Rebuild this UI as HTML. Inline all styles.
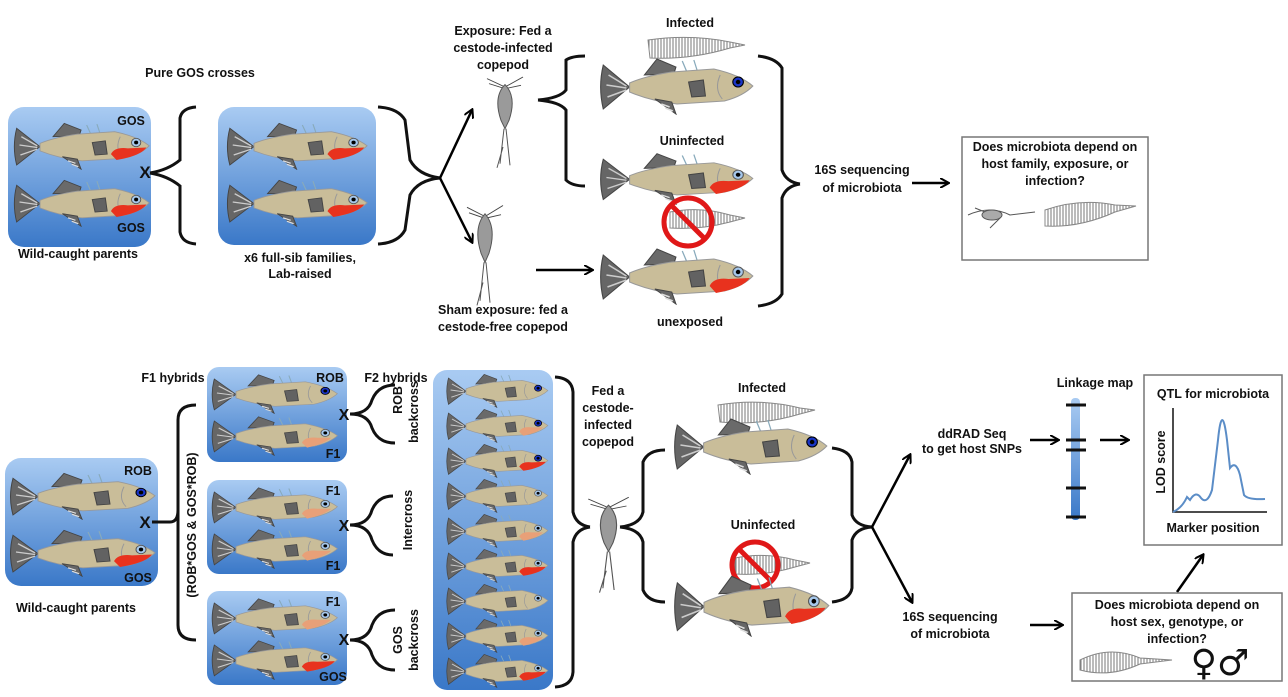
<!DOCTYPE html>
<html><head><meta charset="utf-8"><style>
html,body{margin:0;padding:0;background:#fff}
svg{display:block}
text{font-family:"Liberation Sans",sans-serif;font-weight:bold;font-size:12.5px;fill:#111}
</style></head><body>
<svg width="1288" height="697" viewBox="0 0 1288 697" xmlns="http://www.w3.org/2000/svg">
<defs>
<linearGradient id="bg" x1="0" y1="0" x2="0" y2="1"><stop offset="0" stop-color="#a9cbf2"/><stop offset="1" stop-color="#3a78c8"/></linearGradient>
<linearGradient id="bar" x1="0" y1="0" x2="0" y2="1"><stop offset="0" stop-color="#a9cbf2"/><stop offset="1" stop-color="#3a78c8"/></linearGradient>
<pattern id="hatch" width="3" height="10" patternUnits="userSpaceOnUse"><rect width="3" height="10" fill="#fff"/><line x1="1" y1="0" x2="1" y2="10" stroke="#777" stroke-width="1"/></pattern>
<marker id="ar" markerWidth="10" markerHeight="10" refX="8" refY="5" orient="auto" markerUnits="userSpaceOnUse"><path d="M0,0 L9,5 L0,10" fill="none" stroke="#000" stroke-width="2"/></marker>
<symbol id="base" viewBox="0 0 150 60" preserveAspectRatio="none">
<path d="M30,32 L5,10 Q0,32 5,54 Z" fill="#666" stroke="#444"/>
<path d="M10,20 L27,31 M8,30 L27,33 M9,42 L27,35" stroke="#ccc" stroke-width="1.5"/>
<path d="M44,20 L56,4 L74,12 L72,19 Z" fill="#6a6a6a" stroke="#444"/>
<path d="M84,16 L80,6 M94,15 L91,5" stroke="#8ab" stroke-width="1.2"/>
<path d="M30,28 Q45,21 70,17 L110,14 Q135,20 147,31 Q138,41 120,46 L75,49 Q50,46 30,37 Z" fill="#c9bd99" stroke="#999"/>
<path d="M54,44 L74,59 L70,47 Z" fill="#666" stroke="#444"/>
<path d="M60,49 L68,52 M64,53 L71,56" stroke="#ddd" stroke-width="1.5"/>
<path d="M86,27 L100,25 L102,41 L89,42 Z" fill="#626262" stroke="#444"/>
<path d="M116,20 Q110,34 118,44" fill="none" stroke="#999"/>
<circle cx="133" cy="27" r="5" fill="#a6c8ec" stroke="#555"/><circle cx="133" cy="27" r="2.2" fill="#000"/>
</symbol>
<symbol id="red" viewBox="0 0 150 60" preserveAspectRatio="none"><path d="M106,41 Q110,32 124,34 L144,33 Q138,43 112,48 Z" fill="#e8321e"/></symbol>
<symbol id="org" viewBox="0 0 150 60" preserveAspectRatio="none"><path d="M106,41 Q110,32 124,34 L140,34 Q132,43 112,48 Z" fill="#e8a078"/></symbol>
<symbol id="be" viewBox="0 0 150 60" preserveAspectRatio="none"><circle cx="133" cy="27" r="5" fill="#1a35c8" stroke="#000"/><circle cx="133" cy="27" r="2.2" fill="#000"/></symbol>
<symbol id="cope" viewBox="0 0 40 120" preserveAspectRatio="none">
<path d="M2,8 L20,18 L38,6 M4,14 L20,20 L36,16" stroke="#444" fill="none"/>
<path d="M20,15 Q32,30 24,58 L20,68 L16,58 Q8,30 20,15 Z" fill="#9a9a9a" stroke="#555"/>
<path d="M19,68 L15,110 M21,68 L25,112 M18,90 L12,115" stroke="#555" fill="none"/>
</symbol>
</defs>

<!-- TOP SECTION -->
<text x="200" y="77" text-anchor="middle">Pure GOS crosses</text>
<rect x="8" y="107" width="143" height="140" rx="16" fill="url(#bg)"/>
<text x="131" y="125" text-anchor="middle">GOS</text>
<text x="131" y="232" text-anchor="middle">GOS</text>
<use href="#base" x="12" y="120" width="140" height="50"/><use href="#red" x="12" y="120" width="140" height="50"/>
<use href="#base" x="12" y="177" width="140" height="50"/><use href="#red" x="12" y="177" width="140" height="50"/>
<text x="145" y="178" text-anchor="middle" style="font-size:17px">X</text>
<text x="78" y="258" text-anchor="middle">Wild-caught parents</text>
<path d="M150,173 Q168,170 180,160 L180,118 Q182,108 196,107 M150,173 Q168,176 180,186 L180,232 Q182,243 196,244" fill="none" stroke="#111" stroke-width="3"/>
<rect x="218" y="107" width="158" height="138" rx="16" fill="url(#bg)"/>
<use href="#base" x="225" y="120" width="145" height="50"/><use href="#red" x="225" y="120" width="145" height="50"/>
<use href="#base" x="225" y="177" width="145" height="50"/><use href="#red" x="225" y="177" width="145" height="50"/>
<text x="300" y="262" text-anchor="middle">x6 full-sib families,</text>
<text x="300" y="278" text-anchor="middle">Lab-raised</text>
<path d="M378,107 Q398,108 405,120 L410,160 Q418,175 440,178 M378,244 Q398,243 405,230 L410,195 Q418,180 440,178" fill="none" stroke="#111" stroke-width="3"/>
<line x1="440" y1="178" x2="472" y2="110" stroke="#000" stroke-width="2.5" marker-end="url(#ar)"/>
<line x1="440" y1="178" x2="472" y2="242" stroke="#000" stroke-width="2.5" marker-end="url(#ar)"/>
<text x="503" y="35" text-anchor="middle">Exposure: Fed a</text>
<text x="503" y="52" text-anchor="middle">cestode-infected</text>
<text x="503" y="69" text-anchor="middle">copepod</text>
<use href="#cope" x="485" y="72" width="40" height="100"/>
<use href="#cope" x="465" y="200" width="40" height="110"/>
<text x="503" y="314" text-anchor="middle">Sham exposure: fed a</text>
<text x="503" y="331" text-anchor="middle">cestode-free copepod</text>
<path d="M538,100 Q560,98 566,90 L566,60 Q572,56 585,56 M538,100 Q560,102 566,110 L566,180 Q572,186 585,186" fill="none" stroke="#111" stroke-width="3"/>
<line x1="536" y1="270" x2="592" y2="270" stroke="#000" stroke-width="2.5" marker-end="url(#ar)"/>
<text x="690" y="27" text-anchor="middle">Infected</text>
<path d="M648,40 Q690,34 730,42 L745,45 L730,48 Q690,60 650,58 Z" fill="url(#hatch)" stroke="#888"/>
<use href="#base" x="598" y="55" width="158" height="60"/><use href="#be" x="598" y="55" width="158" height="60"/>
<text x="692" y="145" text-anchor="middle">Uninfected</text>
<use href="#base" x="598" y="150" width="158" height="55"/><use href="#red" x="598" y="150" width="158" height="55"/>
<path d="M670,212 Q700,206 730,215 L745,218 L730,222 Q700,230 670,228 Z" fill="url(#hatch)" stroke="#888"/>
<circle cx="688" cy="222" r="24" fill="none" stroke="#e01818" stroke-width="5"/>
<line x1="671" y1="205" x2="705" y2="239" stroke="#e01818" stroke-width="5"/>
<use href="#base" x="598" y="245" width="158" height="60"/><use href="#red" x="598" y="245" width="158" height="60"/>
<text x="690" y="326" text-anchor="middle">unexposed</text>
<path d="M758,56 Q776,58 782,68 L782,170 Q786,182 800,184 M758,306 Q776,304 782,294 L782,198 Q786,186 800,184" fill="none" stroke="#111" stroke-width="3"/>
<text x="862" y="174" text-anchor="middle">16S sequencing</text>
<text x="862" y="192" text-anchor="middle">of microbiota</text>
<line x1="912" y1="183" x2="948" y2="183" stroke="#000" stroke-width="2.5" marker-end="url(#ar)"/>
<rect x="962" y="137" width="186" height="123" fill="#fff" stroke="#777" stroke-width="1.5"/>
<text x="1055" y="151" text-anchor="middle">Does microbiota depend on</text>
<text x="1055" y="168" text-anchor="middle">host family, exposure, or</text>
<text x="1055" y="185" text-anchor="middle">infection?</text>
<path d="M968,215 Q990,205 1010,215 L1035,212 M975,208 L1000,218 L990,228" fill="none" stroke="#555"/>
<ellipse cx="992" cy="215" rx="10" ry="5" fill="#aaa" stroke="#555"/>
<path d="M1045,210 Q1080,198 1115,205 L1136,206 L1115,212 Q1080,228 1045,226 Z" fill="url(#hatch)" stroke="#888"/>

<!-- BOTTOM SECTION -->
<rect x="5" y="458" width="153" height="128" rx="16" fill="url(#bg)"/>
<text x="138" y="475" text-anchor="middle">ROB</text>
<text x="138" y="582" text-anchor="middle">GOS</text>
<use href="#base" x="8" y="470" width="150" height="50"/><use href="#be" x="8" y="470" width="150" height="50"/>
<use href="#base" x="8" y="527" width="150" height="50"/><use href="#red" x="8" y="527" width="150" height="50"/>
<text x="145" y="528" text-anchor="middle" style="font-size:17px">X</text>
<text x="76" y="612" text-anchor="middle">Wild-caught parents</text>
<path d="M152,522 L170,522 Q178,522 178,510 L178,420 Q178,405 196,405 M178,435 Q178,520 178,525 L178,625 Q178,640 196,640" fill="none" stroke="#111" stroke-width="3"/>
<text transform="translate(196,525) rotate(-90)" text-anchor="middle">(ROB*GOS &amp; GOS*ROB)</text>
<text x="173" y="382" text-anchor="middle">F1 hybrids</text>
<text x="396" y="382" text-anchor="middle">F2 hybrids</text>
<!-- F1 boxes -->
<rect x="207" y="367" width="140" height="95" rx="12" fill="url(#bg)"/>
<text x="330" y="382" text-anchor="middle">ROB</text><text x="333" y="458" text-anchor="middle">F1</text>
<use href="#base" x="210" y="372" width="130" height="42"/><use href="#be" x="210" y="372" width="130" height="42"/>
<use href="#base" x="210" y="414" width="130" height="42"/><use href="#org" x="210" y="414" width="130" height="42"/>
<rect x="207" y="480" width="140" height="94" rx="12" fill="url(#bg)"/>
<text x="333" y="495" text-anchor="middle">F1</text><text x="333" y="570" text-anchor="middle">F1</text>
<use href="#base" x="210" y="485" width="130" height="42"/><use href="#org" x="210" y="485" width="130" height="42"/>
<use href="#base" x="210" y="527" width="130" height="42"/><use href="#org" x="210" y="527" width="130" height="42"/>
<rect x="207" y="591" width="140" height="94" rx="12" fill="url(#bg)"/>
<text x="333" y="606" text-anchor="middle">F1</text><text x="333" y="681" text-anchor="middle">GOS</text>
<use href="#base" x="210" y="596" width="130" height="42"/><use href="#org" x="210" y="596" width="130" height="42"/>
<use href="#base" x="210" y="638" width="130" height="42"/><use href="#red" x="210" y="638" width="130" height="42"/>
<text x="344" y="420" text-anchor="middle" style="font-size:16px">X</text>
<text x="344" y="531" text-anchor="middle" style="font-size:16px">X</text>
<text x="344" y="645" text-anchor="middle" style="font-size:16px">X</text>
<path d="M350,414 Q368,414 372,400 Q378,385 395,385 M350,414 Q368,414 372,428 Q378,443 395,443" fill="none" stroke="#111" stroke-width="3"/>
<path d="M350,525 Q368,525 372,510 Q378,496 393,496 M350,525 Q368,525 372,540 Q378,555 393,555" fill="none" stroke="#111" stroke-width="3"/>
<path d="M350,640 Q368,640 372,625 Q378,610 395,610 M350,640 Q368,640 372,655 Q378,670 395,670" fill="none" stroke="#111" stroke-width="3"/>
<text transform="translate(402,400) rotate(-90)" text-anchor="middle">ROB</text>
<text transform="translate(418,412) rotate(-90)" text-anchor="middle">backcross</text>
<text transform="translate(412,520) rotate(-90)" text-anchor="middle">Intercross</text>
<text transform="translate(402,640) rotate(-90)" text-anchor="middle">GOS</text>
<text transform="translate(418,640) rotate(-90)" text-anchor="middle">backcross</text>
<!-- F2 box -->
<rect x="433" y="370" width="120" height="320" rx="14" fill="url(#bg)"/>
<g>
<use href="#base" x="445" y="372" width="105" height="36"/><use href="#be" x="445" y="372" width="105" height="36"/>
<use href="#base" x="445" y="407" width="105" height="36"/><use href="#org" x="445" y="407" width="105" height="36"/><use href="#be" x="445" y="407" width="105" height="36"/>
<use href="#base" x="445" y="442" width="105" height="36"/><use href="#red" x="445" y="442" width="105" height="36"/><use href="#be" x="445" y="442" width="105" height="36"/>
<use href="#base" x="445" y="477" width="105" height="36"/>
<use href="#base" x="445" y="512" width="105" height="36"/><use href="#org" x="445" y="512" width="105" height="36"/>
<use href="#base" x="445" y="547" width="105" height="36"/><use href="#red" x="445" y="547" width="105" height="36"/>
<use href="#base" x="445" y="582" width="105" height="36"/>
<use href="#base" x="445" y="617" width="105" height="36"/><use href="#org" x="445" y="617" width="105" height="36"/>
<use href="#base" x="445" y="652" width="105" height="36"/><use href="#red" x="445" y="652" width="105" height="36"/>
</g>
<path d="M555,377 Q572,378 573,392 L573,512 Q576,525 590,527 M555,687 Q572,686 573,672 L573,542 Q576,529 590,527" fill="none" stroke="#111" stroke-width="3"/>
<text x="608" y="395" text-anchor="middle">Fed a</text>
<text x="608" y="412" text-anchor="middle">cestode-</text>
<text x="608" y="429" text-anchor="middle">infected</text>
<text x="608" y="446" text-anchor="middle">copepod</text>
<use href="#cope" x="586" y="492" width="45" height="105"/>
<path d="M620,527 Q640,525 643,512 L643,462 Q648,450 665,450 M620,527 Q640,529 643,542 L643,590 Q648,602 665,602" fill="none" stroke="#111" stroke-width="3"/>
<text x="762" y="392" text-anchor="middle">Infected</text>
<path d="M718,405 Q760,398 800,408 L815,410 L800,414 Q760,426 720,422 Z" fill="url(#hatch)" stroke="#888"/>
<use href="#base" x="672" y="415" width="158" height="60"/><use href="#be" x="672" y="415" width="158" height="60"/>
<text x="763" y="529" text-anchor="middle">Uninfected</text>
<path d="M735,558 Q765,552 795,560 L810,563 L795,567 Q765,576 735,574 Z" fill="url(#hatch)" stroke="#888"/>
<circle cx="755" cy="565" r="23" fill="none" stroke="#e01818" stroke-width="5"/>
<line x1="739" y1="549" x2="771" y2="581" stroke="#e01818" stroke-width="5"/>
<use href="#base" x="672" y="572" width="160" height="65"/><use href="#red" x="672" y="572" width="160" height="65"/>
<path d="M832,448 Q850,450 852,462 L852,515 Q856,526 872,527 M832,602 Q850,600 852,588 L852,540 Q856,528 872,527" fill="none" stroke="#111" stroke-width="3"/>
<line x1="872" y1="527" x2="910" y2="455" stroke="#000" stroke-width="2.5" marker-end="url(#ar)"/>
<line x1="872" y1="527" x2="912" y2="602" stroke="#000" stroke-width="2.5" marker-end="url(#ar)"/>
<text x="972" y="438" text-anchor="middle">ddRAD Seq</text>
<text x="972" y="453" text-anchor="middle">to get host SNPs</text>
<line x1="1030" y1="440" x2="1058" y2="440" stroke="#000" stroke-width="2.5" marker-end="url(#ar)"/>
<text x="1095" y="387" text-anchor="middle">Linkage map</text>
<rect x="1071" y="398" width="9" height="122" rx="4" fill="url(#bar)"/>
<g stroke="#111" stroke-width="3"><line x1="1066" y1="405" x2="1086" y2="405"/><line x1="1066" y1="440" x2="1086" y2="440"/><line x1="1066" y1="450" x2="1086" y2="450"/><line x1="1066" y1="488" x2="1086" y2="488"/><line x1="1066" y1="517" x2="1086" y2="517"/></g>
<line x1="1100" y1="440" x2="1128" y2="440" stroke="#000" stroke-width="2.5" marker-end="url(#ar)"/>
<rect x="1144" y="375" width="138" height="170" fill="#fff" stroke="#777" stroke-width="1.5"/>
<text x="1213" y="398" text-anchor="middle">QTL for microbiota</text>
<path d="M1173,408 L1173,512 L1267,512" fill="none" stroke="#111" stroke-width="1.5"/>
<text transform="translate(1165,462) rotate(-90)" text-anchor="middle">LOD score</text>
<path d="M1173,512 Q1182,508 1187,497 L1190,500 Q1196,490 1201,498 Q1207,505 1212,490 L1218,440 Q1222,400 1227,440 L1230,468 Q1236,460 1240,475 L1244,495 Q1248,500 1265,499" fill="none" stroke="#5b8dc7" stroke-width="2"/>
<text x="1213" y="532" text-anchor="middle">Marker position</text>
<line x1="1030" y1="625" x2="1062" y2="625" stroke="#000" stroke-width="2.5" marker-end="url(#ar)"/>
<text x="950" y="621" text-anchor="middle">16S sequencing</text>
<text x="950" y="638" text-anchor="middle">of microbiota</text>
<line x1="1177" y1="592" x2="1203" y2="555" stroke="#000" stroke-width="2.5" marker-end="url(#ar)"/>
<rect x="1072" y="593" width="210" height="88" fill="#fff" stroke="#777" stroke-width="1.5"/>
<text x="1177" y="609" text-anchor="middle">Does microbiota depend on</text>
<text x="1177" y="626" text-anchor="middle">host sex, genotype, or</text>
<text x="1177" y="643" text-anchor="middle">infection?</text>
<path d="M1080,660 Q1110,645 1140,658 L1172,660 L1140,664 Q1110,678 1080,670 Z" fill="url(#hatch)" stroke="#888"/>
<text x="1220" y="675" text-anchor="middle" style="font-size:36px;font-weight:normal;font-family:'DejaVu Sans',sans-serif">♀♂</text>
</svg>
</body></html>
